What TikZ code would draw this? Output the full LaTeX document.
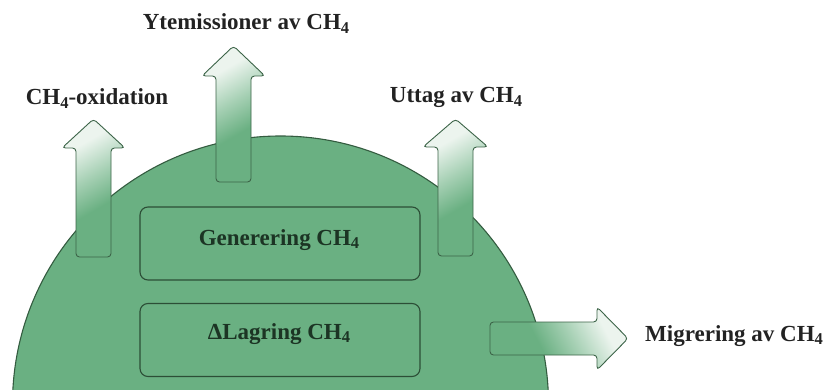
\documentclass[tikz,border=0pt]{standalone}
\usepackage{fontspec}
\setmainfont{Liberation Serif}
\usepackage{graphicx}

\definecolor{domefill}{RGB}{106,176,130}
\definecolor{domeline}{RGB}{52,92,64}
\definecolor{boxline}{RGB}{44,78,54}
\definecolor{boxink}{RGB}{28,52,36}
\definecolor{labelink}{RGB}{34,34,34}
\definecolor{arrowlight}{RGB}{236,244,238}
\definecolor{arrowmid}{RGB}{166,208,180}
\definecolor{arrowline}{RGB}{60,100,72}

% flux arrow shading: green at the base, pale towards the tip
% (the path's bounding box spans 25bp--75bp of the shading)
\pgfdeclareverticalshading{fluxshade}{100bp}{%
  color(0bp)=(domefill); color(41bp)=(domefill); color(55bp)=(arrowmid);
  color(70bp)=(arrowlight); color(100bp)=(arrowlight)}

% lowered, smaller index digit for chemical formulas
\newcommand\chsub[1]{\raisebox{-0.14em}{\fontsize{16.5}{16.5}\selectfont #1}}
\newcommand\methane{CH\chsub{4}}

\begin{document}
\begin{tikzpicture}[x=1pt,y=-1pt,
  lbl/.style={font=\fontsize{23}{27}\selectfont\bfseries, text=labelink, inner sep=0pt, anchor=base},
  boxlbl/.style={lbl, text=boxink},
  stage/.style={draw=boxline, line width=1.1pt, rounded corners=8pt,
                minimum width=280pt, minimum height=73pt, inner sep=0pt},
  flowup/.style={draw=arrowline, line width=0.9pt, rounded corners=3.5pt,
                 shading=fluxshade, shading angle=30},
  flowright/.style={draw=arrowline, line width=0.9pt, rounded corners=3.5pt,
                 shading=fluxshade, shading angle=-62}
]
\useasboundingbox (0,0) rectangle (827,390);

% the reservoir dome
\begin{scope}
  \clip (0,0) rectangle (827,390);
  \draw[fill=domefill, draw=domeline, line width=1.1pt] (280.5,404) circle[radius=268pt];
\end{scope}

% process boxes inside the dome
\node[stage] (gen) at (280,243.5) {};
\node[stage] (lag) at (280,340) {};
\node[boxlbl] (genlbl) at (279,245.5) {Generering \methane};
\node[boxlbl] (laglbl) at (279,339) {ΔLagring \methane};

% outgoing fluxes
\shade[flowup] (76,257) -- (76,148) -- (62,148) -- (93.5,119) -- (125,148) -- (111,148) -- (111,257) -- cycle;
\shade[flowup] (216,182) -- (216,76) -- (202,76) -- (233.5,46) -- (265,76) -- (251,76) -- (251,182) -- cycle;
\shade[flowup] (438,256) -- (438,147) -- (423,147) -- (455.5,119) -- (488,147) -- (473,147) -- (473,256) -- cycle;
\shade[flowright] (490,322) -- (597,322) -- (597,307) -- (628,338.5) -- (597,370) -- (597,355) -- (490,355) -- cycle;

% flux labels
\node[lbl] (oxid) at (97,105) {\methane-oxidation};
\node[lbl] (ytem) at (246,30) {Ytemissioner av \methane};
\node[lbl] (uttag) at (456,103) {Uttag av \methane};
\node[lbl, anchor=base west] (migr) at (645,341) {Migrering av \methane};
\end{tikzpicture}
\end{document}
